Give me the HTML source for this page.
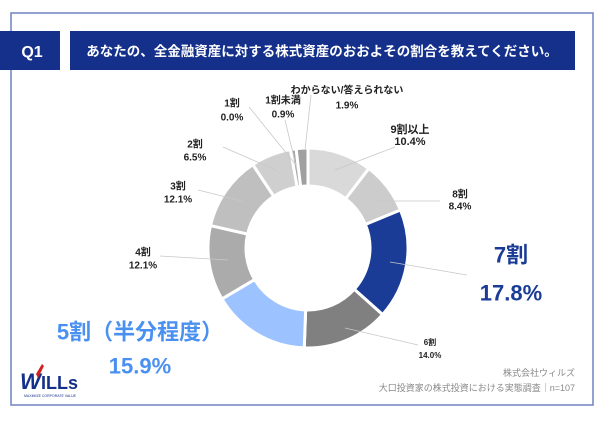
<!DOCTYPE html>
<html><head><meta charset="utf-8"><style>
body{margin:0;width:602px;height:416px;background:#fff;overflow:hidden;font-family:"Liberation Sans","Noto Sans CJK JP",sans-serif;}
</style></head><body>
<svg width="602" height="416" viewBox="0 0 602 416" xmlns="http://www.w3.org/2000/svg" font-family="Liberation Sans, Noto Sans CJK JP, sans-serif">
<rect x="11" y="13" width="582" height="392" fill="#fff" stroke="#6f83c0" stroke-width="1.5"/>
<rect x="0" y="31" width="60" height="39" fill="#14308a"/>
<text x="32" y="57" fill="#fff" font-size="16" font-weight="bold" text-anchor="middle">Q1</text>
<rect x="70" y="31" width="505" height="39" fill="#14308a"/>
<text x="322" y="56" fill="#fff" font-size="13.5" font-weight="bold" text-anchor="middle">あなたの、全金融資産に対する株式資産のおおよその割合を教えてください。</text>
<g id="slices"></g>
<g id="leaders" stroke="#c8c8c8" stroke-width="0.8"></g>
<g id="labels"></g>
<text x="575" y="376" fill="#888" font-size="9" text-anchor="end">株式会社ウィルズ</text>
<text x="575" y="391" fill="#888" font-size="9" text-anchor="end">大口投資家の株式投資における実態調査｜n=107</text>
<g>
<text x="20" y="389" fill="#14308a" font-size="22" font-weight="bold" font-style="italic" letter-spacing="-1">W</text>
<text x="41" y="389" fill="#14308a" font-size="18" font-weight="bold">ILLs</text>
<path d="M36 374 L42 364 L44 366 L38 378Z" fill="#d42020"/>
<text x="24" y="397" fill="#14308a" font-size="3.5">MAXIMIZE CORPORATE VALUE</text>
</g>
</svg>
<script>
const categories=["9割以上","8割","7割","6割","5割（半分程度）","4割","3割","2割","1割","1割未満","わからない/答えられない"];
const values=[10.4,8.4,17.8,14.0,15.9,12.1,12.1,6.5,0.0,0.9,1.9];
const valueLabels=["10.4%","8.4%","17.8%","14.0%","15.9%","12.1%","12.1%","6.5%","0.0%","0.9%","1.9%"];
const colors=["#d9d9d9","#cccccc","#1a3c96","#808080","#9cc3ff","#ababab","#bfbfbf","#cfcfcf","#bbbbbb","#a6a6a6","#a0a0a0"];
const labelPos=[[410,129,141,11,"#222","bold"],[460,194,206,10,"#222","bold"],[511,255,293,22,"#1a3c96","bold"],[430,342,355,8,"#222","bold"],[140,332,366,22,"#4a90f0","bold"],[143,252,265,10,"#222","bold"],[178,186,199,10,"#222","bold"],[195,144,157,10,"#222","bold"],[232,103,117,10,"#222","bold"],[283,100,114,10,"#222","bold"],[347,90,105,10,"#222","bold"]];
const leaders=[[395,147,335,170],[440,201,375,201],[467,275,390,262],[418,345,345,328],null,[160,256,228,260],[198,190,242,201],[223,147,278,171],[249,107,296,165],[285,120,297,170],[311,95,305,150]];
const cx=308,cy=248,R=100,r=62;
const NS="http://www.w3.org/2000/svg";
const total=values.reduce((a,b)=>a+b,0);
function angle(v){return v/total*2*Math.PI;}
function pt(a,rad){return [cx+rad*Math.sin(a),cy-rad*Math.cos(a)];}
let acc=0;
const gS=document.getElementById('slices'),gL=document.getElementById('labels'),gLd=document.getElementById('leaders');
values.forEach((v,i)=>{
  const a0=angle(acc),a1=angle(acc+v);acc+=v;
  if(v>0){
    const p0=pt(a0,R),p1=pt(a1,R),p2=pt(a1,r),p3=pt(a0,r),lg=(a1-a0)>Math.PI?1:0;
    const p=document.createElementNS(NS,'path');
    p.setAttribute('d',`M${p0[0]},${p0[1]} A${R},${R} 0 ${lg} 1 ${p1[0]},${p1[1]} L${p2[0]},${p2[1]} A${r},${r} 0 ${lg} 0 ${p3[0]},${p3[1]}Z`);
    p.setAttribute('fill',colors[i]);p.setAttribute('stroke','#fff');p.setAttribute('stroke-width','3');
    
    
    gS.appendChild(p);
  }
  if(leaders[i]){
    const l=document.createElementNS(NS,'line');const L=leaders[i];
    l.setAttribute('x1',L[0]);l.setAttribute('y1',L[1]);l.setAttribute('x2',L[2]);l.setAttribute('y2',L[3]);
    
    
    gLd.appendChild(l);
  }
  const P=labelPos[i];
  [[categories[i],P[1]],[valueLabels[i],P[2]]].forEach((t,k)=>{
    const e=document.createElementNS(NS,'text');
    e.setAttribute('x',P[0]);e.setAttribute('y',P[1+k]+P[3]*0.35);
    e.setAttribute('font-size',P[3]);e.setAttribute('fill',P[4]);e.setAttribute('font-weight',P[5]);
    e.setAttribute('text-anchor','middle');
    e.textContent=t[0];
    
    
    gL.appendChild(e);
  });
});
</script>
</body></html>
